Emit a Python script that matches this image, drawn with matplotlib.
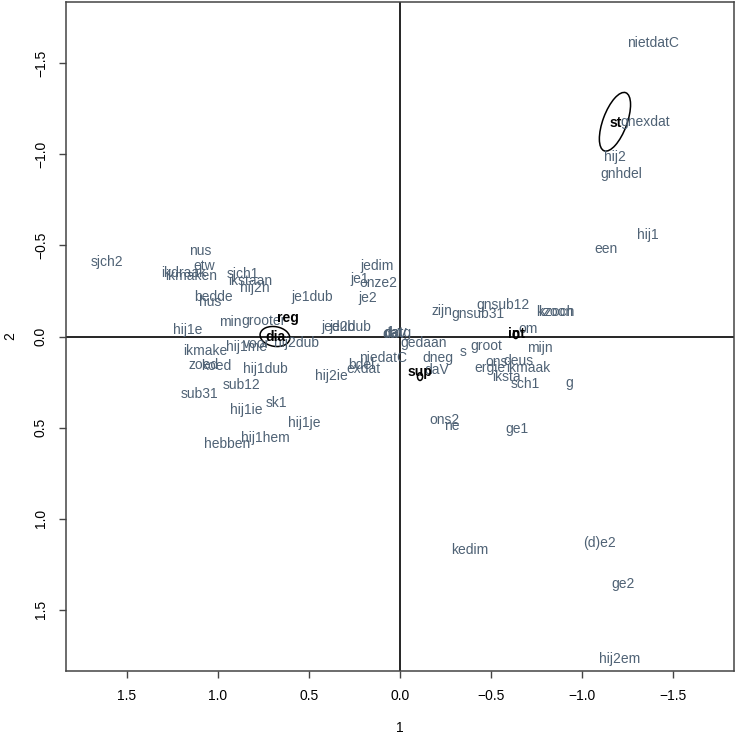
import matplotlib
matplotlib.use("Agg")
import matplotlib.pyplot as plt
from matplotlib.patches import Ellipse
import numpy as np

# word labels (dimension 1, dimension 2)
words = [
    "sjch2", "nus", "etw", "ikdraak", "ikmaken", "sjch1", "ikstaan", "hij2h",
    "bedde", "hus", "je1dub", "jedim", "je1", "onze2", "je2", "min", "grooter",
    "hij1e", "je2dub", "jedub", "ikmake", "hij1me", "voor", "hij2dub", "zoed",
    "koed", "hij1dub", "hij2ie", "bdel", "exdat", "niedatC", "sub12", "sub31",
    "sk1", "hij1ie", "hij1je", "hij1hem", "hebben",
    "zijn", "gnsub12", "gnsub31", "kzoon", "kzoch", "om", "dat", "datg", "daV",
    "gedaan", "groot", "s", "mijn", "dneg", "ons", "deus", "ergie", "ikmaak",
    "iksta", "sch1", "g", "daV",
    "nietdatC", "gnexdat", "hij2", "gnhdel", "hij1", "een",
    "kedim", "(d)e2", "ge2", "hij2em", "ons2", "ne", "ge1",
]
dim1 = [
    1.611, 1.099, 1.075, 1.19, 1.145, 0.864, 0.824, 0.797,
    1.026, 1.044, 0.482, 0.125, 0.22, 0.119, 0.178, 0.93, 0.751,
    1.169, 0.275, 0.339, 1.071, 0.842, 0.787, 0.568, 1.081,
    1.007, 0.738, 0.379, 0.21, 0.201, 0.092, 0.87, 1.099,
    0.681, 0.842, 0.526, 0.738, 0.952,
    -0.229, -0.564, -0.43, -0.852, -0.86, -0.705, 0.04, 0.01, 0.03,
    -0.128, -0.476, -0.344, -0.769, -0.21, -0.531, -0.65, -0.495, -0.705,
    -0.586, -0.687, -0.93, -0.201,
    -1.39, -1.346, -1.181, -1.218, -1.361, -1.132,
    -0.381, -1.095, -1.224, -1.209, -0.247, -0.286, -0.643,
]
dim2 = [
    -0.407, -0.471, -0.388, -0.347, -0.332, -0.343, -0.306, -0.264,
    -0.218, -0.191, -0.217, -0.387, -0.314, -0.295, -0.213, -0.08, -0.085,
    -0.036, -0.054, -0.054, 0.078, 0.056, 0.041, 0.034, 0.156,
    0.16, 0.18, 0.215, 0.156, 0.18, 0.116, 0.266, 0.315,
    0.367, 0.403, 0.473, 0.555, 0.592,
    -0.142, -0.173, -0.122, -0.133, -0.133, -0.04, -0.018, -0.02, -0.016,
    0.037, 0.05, 0.087, 0.065, 0.12, 0.138, 0.134, 0.175, 0.175,
    0.22, 0.261, 0.257, 0.184,
    -1.61, -1.178, -0.986, -0.891, -0.557, -0.478,
    1.171, 1.131, 1.358, 1.771, 0.458, 0.491, 0.508,
]

# group labels with confidence ellipses
groups = ["reg", "dia", "sup", "int", "st"]
group_d1 = [0.614, 0.687, -0.11, -0.641, -1.187]
group_d2 = [-0.103, 0.001, 0.196, -0.012, -1.17]
ell_d1 = [None, 0.687, -0.11, -0.636, -1.181]
ell_d2 = [None, 0.0, 0.22, -0.01, -1.178]
ell_w = [None, 0.165, 0.028, 0.028, 0.34]
ell_h = [None, 0.108, 0.042, 0.042, 0.132]
ell_angle = [None, -10, 0, 0, 69.6]

plt.rcParams["font.family"] = ["Liberation Sans", "DejaVu Sans"]

fig = plt.figure(figsize=(7.37, 7.36), dpi=100)
ax = fig.add_axes([66 / 737, 65 / 736, 668 / 737, 669 / 736])

text_color = "#4f6275"
for w, x, y in zip(words, dim1, dim2):
    ax.text(x, y, w, color=text_color, fontsize=10, ha="center", va="center")

ax.axhline(0, color="black", lw=1.2)
ax.axvline(0, color="black", lw=1.2)

for g, x, y in zip(groups, group_d1, group_d2):
    ax.text(x, y, g, color="black", fontsize=10, fontweight="bold",
            ha="center", va="center")
for x, y, w, h, a in zip(ell_d1, ell_d2, ell_w, ell_h, ell_angle):
    if x is None:
        continue
    ax.add_patch(Ellipse((x, y), w, h, angle=a, fill=False,
                         edgecolor="black", lw=1.1))

ax.set_xlim(1.835, -1.835)
ax.set_ylim(1.835, -1.835)
ticks = [-1.5, -1.0, -0.5, 0.0, 0.5, 1.0, 1.5]
ax.set_xticks(ticks)
ax.set_yticks(ticks)
ax.set_xticklabels([f"{t:.1f}".replace("-", "\u2212") for t in ticks])
ax.set_yticklabels([f"{t:.1f}".replace("-", "\u2212") for t in ticks],
                   rotation=90, va="center")
ax.tick_params(direction="out", length=5, width=1, labelsize=10, pad=8,
               color="#444444")
for s in ax.spines.values():
    s.set_color("#444444")
    s.set_linewidth(1.1)
ax.set_xlabel("1", fontsize=10, labelpad=13)
ax.set_ylabel("2", fontsize=10, labelpad=12)

fig.savefig("out.png", dpi=100)
